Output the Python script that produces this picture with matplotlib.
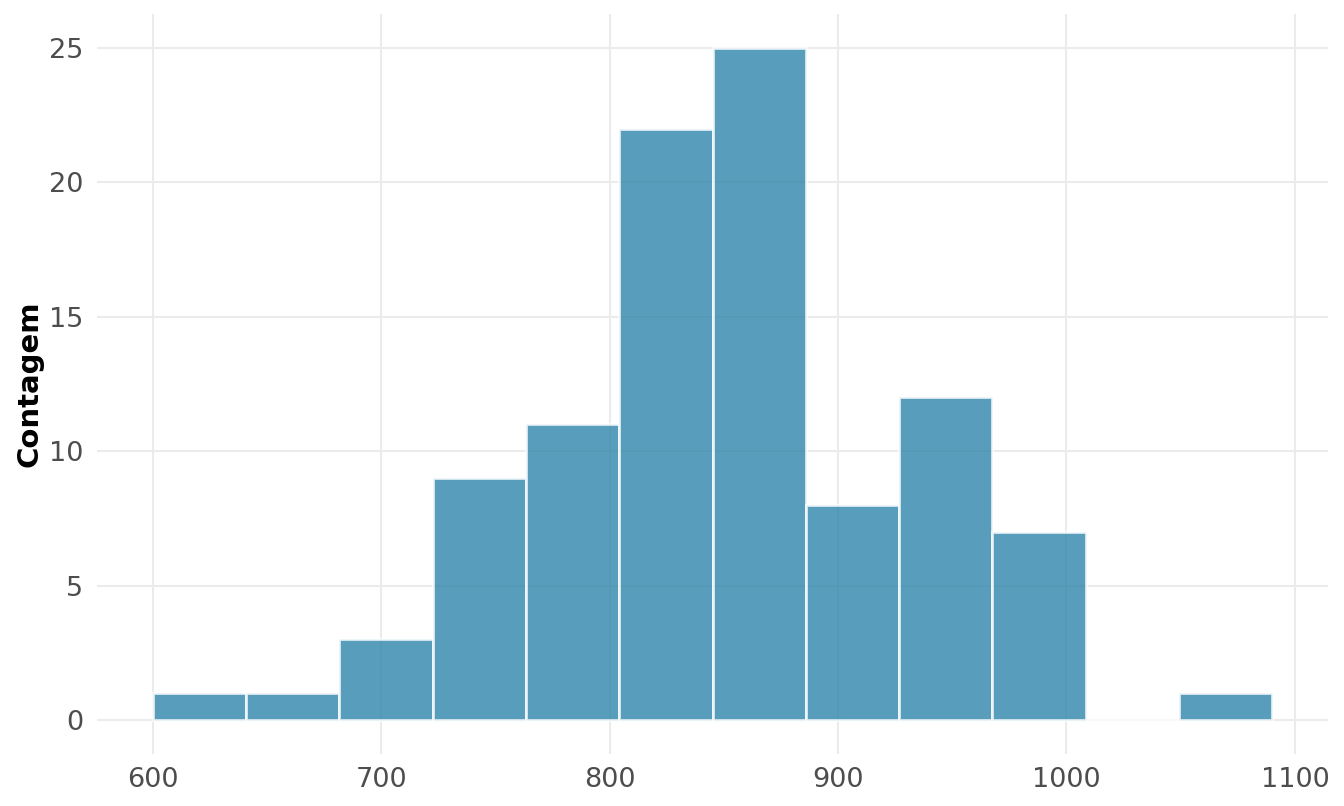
import numpy as np
import matplotlib
matplotlib.use("Agg")
import matplotlib.pyplot as plt

# histogram bins (left edges) and counts
bin_start = 600
bin_end = 1090
counts = [1, 1, 3, 9, 11, 22, 25, 8, 12, 7, 0, 1]
x_ticks = [600, 700, 800, 900, 1000, 1100]
y_ticks = [0, 5, 10, 15, 20, 25]

edges = np.linspace(bin_start, bin_end, len(counts) + 1)
width = edges[1] - edges[0]

plt.rcParams['font.family'] = ['DejaVu Sans']

fig = plt.figure(figsize=(13.44, 8.06), dpi=100)
ax = fig.add_axes([97 / 1344, 1 - 753.6 / 806, (1328 - 97) / 1344, (753.6 - 14.4) / 806])

ax.bar(edges[:-1], counts, width=width, align='edge', color='#2E86AB', alpha=0.8,
       edgecolor='white', linewidth=2, zorder=3)

span = bin_end - bin_start
ax.set_xlim(bin_start - 0.05 * span, bin_end + 0.05 * span)
ax.set_ylim(-0.05 * 25, 25 * 1.05)
ax.set_xticks(x_ticks)
ax.set_yticks(y_ticks)

ax.grid(True, color='#EBEBEB', linewidth=1.5, zorder=0)
ax.set_axisbelow(True)
for s in ax.spines.values():
    s.set_visible(False)
ax.tick_params(length=0, labelsize=19.5, labelcolor='#4D4D4D', pad=10)

ax.set_ylabel('Contagem', fontsize=21, fontweight='bold', color='black', labelpad=4)

fig.savefig('out.png', dpi=100)
